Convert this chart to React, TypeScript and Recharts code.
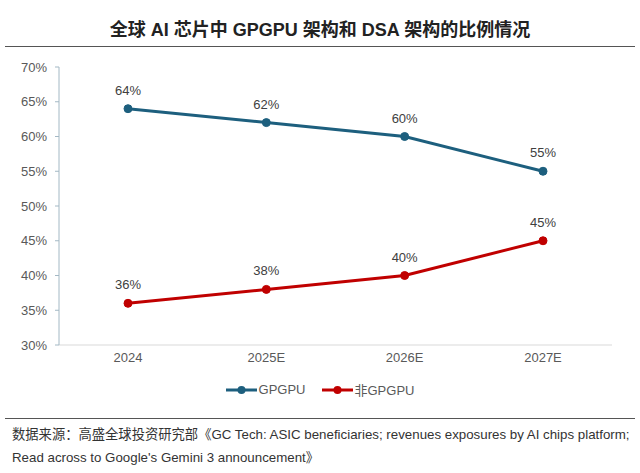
import React from 'react';
import { LineChart, Line, XAxis, YAxis, LabelList } from 'recharts';

const years = ['2024', '2025E', '2026E', '2027E'];
const gpgpuShare = [0.64, 0.62, 0.6, 0.55];
const nonGpgpuShare = [0.36, 0.38, 0.4, 0.45];
const yTicks = [0.3, 0.35, 0.4, 0.45, 0.5, 0.55, 0.6, 0.65, 0.7];

const TEAL = '#1d5f7e';
const RED = '#c00000';
const FONT = '"Liberation Sans", Arial, "Noto Sans CJK SC", sans-serif';

const chartData = years.map((year, i) => ({
  year,
  gpgpu: gpgpuShare[i],
  nonGpgpu: nonGpgpuShare[i],
}));

const pct = (v: number) => `${Math.round(v * 100)}%`;

const LegendItem: React.FC<{ color: string; label: string }> = ({ color, label }) => (
  <span style={{ display: 'inline-flex', alignItems: 'center', margin: '0 8px' }}>
    <svg width={31} height={10} style={{ marginRight: 2 }}>
      <line x1={0} y1={5} x2={31} y2={5} stroke={color} strokeWidth={3} />
      <circle cx={15.5} cy={5} r={4} fill={color} />
    </svg>
    <span>{label}</span>
  </span>
);

const App: React.FC = () => {
  return (
    <div
      style={{
        position: 'absolute',
        left: 0,
        top: 0,
        width: 640,
        height: 473,
        background: '#fff',
        fontFamily: FONT,
      }}
    >
      <div
        style={{
          position: 'absolute',
          top: 15,
          width: 640,
          textAlign: 'center',
          fontSize: 18,
          fontWeight: 'bold',
          color: '#222',
        }}
      >
        全球 AI 芯片中 GPGPU 架构和 DSA 架构的比例情况
      </div>
      <div style={{ position: 'absolute', top: 46, left: 5, width: 630, height: 1, background: '#555' }} />

      <div style={{ position: 'absolute', top: 0, left: 0 }}>
        <LineChart width={640} height={380} data={chartData} margin={{ top: 67, right: 28, left: 9, bottom: 5 }}>
          <XAxis
            dataKey="year"
            height={30}
            padding={{ left: 69, right: 69 }}
            tickLine={false}
            axisLine={{ stroke: '#d9d9d9' }}
            tick={{ fill: '#595959', fontSize: 13, fontFamily: FONT }}
          />
          <YAxis
            width={50}
            domain={[0.3, 0.7]}
            ticks={yTicks}
            tickFormatter={pct}
            tickSize={4}
            tickMargin={8}
            axisLine={{ stroke: '#a3b8c4' }}
            tickLine={{ stroke: '#a3b8c4' }}
            tick={{ fill: '#595959', fontSize: 13, fontFamily: FONT }}
          />
          <Line
            dataKey="gpgpu"
            stroke={TEAL}
            strokeWidth={3}
            dot={{ r: 4, fill: TEAL, stroke: TEAL, strokeWidth: 1 }}
            isAnimationActive={false}
          >
            <LabelList dataKey="gpgpu" position="top" offset={14} formatter={(v: any) => pct(Number(v))} fill="#404040" fontSize={13} fontFamily={FONT} />
          </Line>
          <Line
            dataKey="nonGpgpu"
            stroke={RED}
            strokeWidth={3}
            dot={{ r: 4, fill: RED, stroke: RED, strokeWidth: 1 }}
            isAnimationActive={false}
          >
            <LabelList dataKey="nonGpgpu" position="top" offset={14} formatter={(v: any) => pct(Number(v))} fill="#404040" fontSize={13} fontFamily={FONT} />
          </Line>
        </LineChart>
      </div>

      <div
        style={{
          position: 'absolute',
          top: 380,
          width: 640,
          display: 'flex',
          justifyContent: 'center',
          fontSize: 13,
          color: '#595959',
        }}
      >
        <LegendItem color={TEAL} label="GPGPU" />
        <LegendItem color={RED} label="非GPGPU" />
      </div>

      <div style={{ position: 'absolute', top: 418, left: 5, width: 630, height: 1, background: '#555' }} />
      <div
        style={{
          position: 'absolute',
          top: 423,
          left: 12,
          width: 628,
          fontSize: 13.3,
          lineHeight: '23px',
          color: '#333',
          whiteSpace: 'nowrap',
        }}
      >
        数据来源：高盛全球投资研究部《GC Tech: ASIC beneficiaries; revenues exposures by AI chips platform;
        <br />
        Read across to Google's Gemini 3 announcement》
      </div>
    </div>
  );
};

export default App;
